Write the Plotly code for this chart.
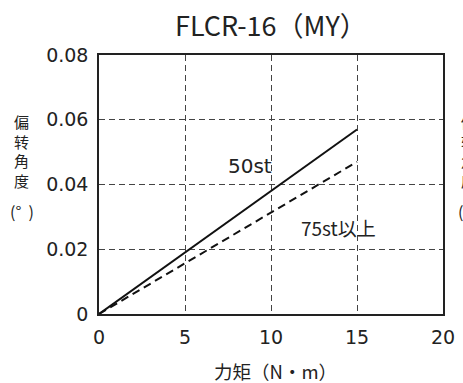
import plotly.graph_objects as go

torque = [0, 15]
deflection_50st = [0, 0.057]
deflection_75st = [0, 0.047]

x_ticks = [0, 5, 10, 15, 20]
x_ticklabels = ["0", "5", "10", "15", "20"]
y_ticks = [0, 0.02, 0.04, 0.06, 0.08]
y_ticklabels = ["0", "0.02", "0.04", "0.06", "0.08"]

title_text = "FLCR-16（MY）"
x_title = "力矩（N・m）"
y_title = "偏<br>转<br>角<br>度"
y_unit = "(°  )"
series_labels = ["50st", "75st以上"]

CJK = "Noto Sans CJK JP"
NUM = "DejaVu Sans"
W, H = 463, 383
L, R, T, B = 99, 20, 55, 69
PW, PH = W - L - R, H - T - B

def px(x):
    return (x - L) / PW

def py(y):
    return (H - B - y) / PH

fig = go.Figure()
fig.add_trace(go.Scatter(x=torque, y=deflection_50st, mode="lines",
                         line=dict(color="#111", width=2), showlegend=False))
fig.add_trace(go.Scatter(x=torque, y=deflection_75st, mode="lines",
                         line=dict(color="#111", width=2, dash="8px,5px"), showlegend=False))

common = dict(showgrid=True, gridcolor="#444", gridwidth=1, griddash="6px,4px",
              showline=True, linecolor="#222", linewidth=1.5, mirror=True,
              zeroline=False, ticks="outside", tickcolor="rgba(0,0,0,0)",
              tickfont=dict(family=NUM, size=19, color="#222"), automargin=False)

fig.update_xaxes(range=[0, 20], tickvals=x_ticks, ticktext=x_ticklabels, ticklen=5, **common)
fig.update_yaxes(range=[0, 0.08], tickvals=y_ticks, ticktext=y_ticklabels, ticklen=5, **common)

ann = []
def text(x, y, s, size=15, family=CJK, xanchor="center", yanchor="middle"):
    ann.append(dict(x=px(x), y=py(y), xref="paper", yref="paper", text=s,
                    showarrow=False, xanchor=xanchor, yanchor=yanchor,
                    font=dict(family=family, size=size, color="#222")))

text(271, 24, title_text, size=27)
text(275, 371, x_title, size=18.5)
text(250, 166, series_labels[0], size=20, family=NUM)
text(338, 227, series_labels[1], size=19)
text(21, 151, y_title, size=15)
text(22, 211, y_unit, size=16)
# partially visible label of the neighbouring chart at the right edge
text(469, 151, y_title, size=15)
text(470, 211, y_unit, size=16)

fig.update_layout(width=W, height=H, margin=dict(l=L, r=R, t=T, b=B),
                  plot_bgcolor="white", paper_bgcolor="white",
                  annotations=ann, font=dict(family=CJK))
fig.write_html("out.html", post_script="document.body.style.margin='0';",
               config={"displayModeBar": False})
